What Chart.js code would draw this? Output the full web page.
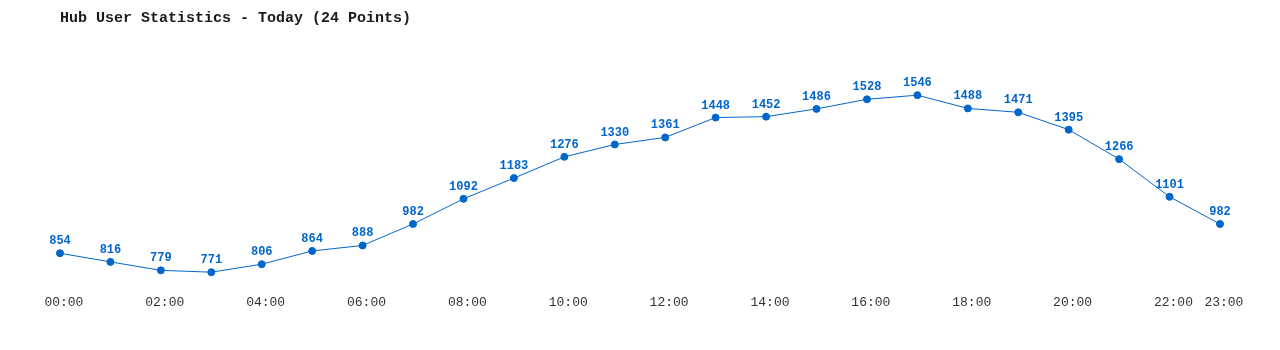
<!DOCTYPE html>
<html>
<head>
<meta charset="utf-8">
<script src="https://cdn.jsdelivr.net/npm/chart.js@4"></script>
<style>
  html, body { margin: 0; padding: 0; background: #fff; }
  #wrap { width: 1280px; height: 350px; }
</style>
</head>
<body>
<div id="wrap"><canvas id="hubChart" width="1280" height="350"></canvas></div>
<script>
// hourly points for today
const hours = ['00:00', '01:00', '02:00', '03:00', '04:00', '05:00', '06:00', '07:00',
               '08:00', '09:00', '10:00', '11:00', '12:00', '13:00', '14:00', '15:00',
               '16:00', '17:00', '18:00', '19:00', '20:00', '21:00', '22:00', '23:00'];
const users = [854, 816, 779, 771, 806, 864, 888, 982, 1092, 1183, 1276, 1330,
               1361, 1448, 1452, 1486, 1528, 1546, 1488, 1471, 1395, 1266, 1101, 982];

const blue = '#0066cc';
const mono = "'Liberation Mono', 'DejaVu Sans Mono', monospace";

// simple value labels above each point (no datalabels plugin offline)
const pointLabels = {
    id: 'pointLabels',
    afterDatasetsDraw(chart) {
        const ctx = chart.ctx;
        const meta = chart.getDatasetMeta(0);
        ctx.save();
        ctx.fillStyle = blue;
        ctx.font = 'bold 12px ' + mono;
        ctx.textAlign = 'center';
        ctx.textBaseline = 'bottom';
        meta.data.forEach((pt, i) => {
            ctx.fillText(String(users[i]), pt.x, pt.y - 6);
        });
        ctx.restore();
    }
};

const ctx = document.getElementById('hubChart').getContext('2d');
new Chart(ctx, {
    type: 'line',
    data: {
        labels: hours,
        datasets: [{
            data: users,
            borderColor: blue,
            backgroundColor: blue,
            borderWidth: 1,
            pointRadius: 3.5,
            pointHoverRadius: 3.5,
            tension: 0
        }]
    },
    options: {
        responsive: false,
        animation: false,
        layout: {
            padding: { left: 60, right: 60, top: 0, bottom: 34 }
        },
        plugins: {
            legend: { display: false },
            tooltip: { enabled: false },
            title: {
                display: true,
                text: 'Hub User Statistics - Today (24 Points)',
                align: 'start',
                color: '#1a1a1a',
                font: { family: mono, size: 15, weight: 'bold' },
                padding: { top: 9, bottom: 33 }
            }
        },
        scales: {
            x: {
                offset: false,
                grid: { display: false, drawTicks: false },
                border: { display: false },
                ticks: {
                    autoSkip: false,
                    maxRotation: 0,
                    padding: 6,
                    color: '#333',
                    font: { family: mono, size: 13 },
                    // labels sit a touch right of their point, as in the original
                    callback: function(val, i) {
                        return (i % 2 === 0 || i === hours.length - 1) ? ' ' + hours[i] : '';
                    }
                }
            },
            y: {
                display: false,
                min: 700,
                max: 1700
            }
        }
    },
    plugins: [pointLabels]
});
</script>
</body>
</html>
